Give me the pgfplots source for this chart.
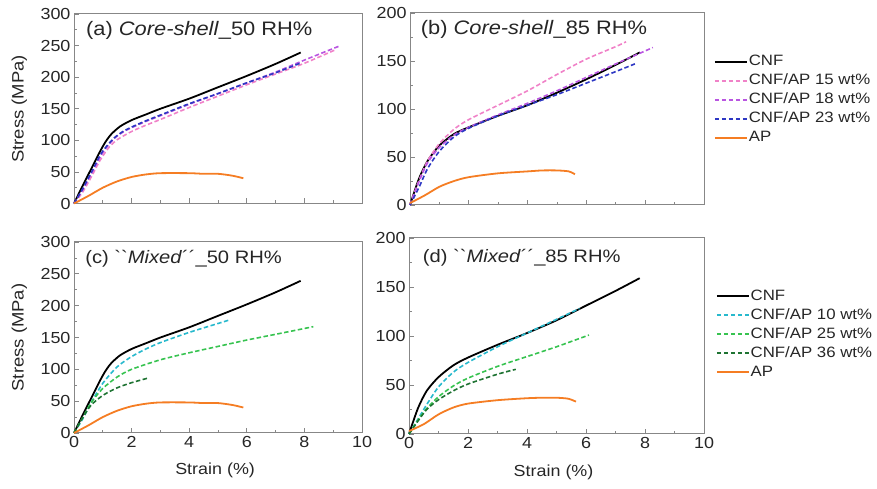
\documentclass[border=0pt]{standalone}
\usepackage{pgfplots}
\pgfplotsset{compat=1.18}
\usepackage{fontspec}
\setmainfont{Liberation Sans}[FakeStretch=1.12]
\newfontfamily\qfont{Liberation Sans}[FakeStretch=1.12]
\definecolor{cpink}{RGB}{240,130,200}
\definecolor{cviolet}{RGB}{185,85,225}
\definecolor{cblue}{RGB}{45,55,195}
\definecolor{ccyan}{RGB}{40,185,205}
\definecolor{cgreen}{RGB}{55,195,80}
\definecolor{cdgreen}{RGB}{30,115,50}
\definecolor{corange}{RGB}{245,125,35}
\definecolor{cframe}{RGB}{135,135,135}
\tikzset{ttl/.style={anchor=west, font=\fontsize{19.5}{22}\selectfont, text=black!85},
         ttlm/.style={anchor=west, font=\fontsize{18}{22}\selectfont, text=black!85}}
\pgfplotsset{
  panel/.style={scale only axis, xmin=0, xmax=10, ymin=0,
    xtick={0,2,...,10}, minor xtick={1,3,...,9}, minor y tick num=1,
    tick align=inside, xtick pos=left, ytick pos=left,
    major tick length=5pt, minor tick length=3pt,
    axis line style={cframe, line width=1pt},
    every tick/.style={cframe, line width=0.8pt},
    tick label style={font=\fontsize{16}{18}\selectfont, text=black!85},
    /pgf/number format/assume math mode=true,
    clip=false,
    legend cell align=left,
    legend image code/.code={\draw[##1, line width=1.7pt] (0pt,0pt) -- (32pt,0pt);},
    legend style={draw=none, fill=none, inner sep=0pt, row sep=3pt,
      font=\fontsize{15}{18}\selectfont, text=black!85,
      nodes={inner sep=1pt, text height=11pt, text depth=3pt}},
  },
  sol/.style={line width=1.8pt, smooth, tension=0.45},
  das/.style={line width=1.6pt, smooth, tension=0.45, dash pattern=on 4.5pt off 2.5pt},
  ylab/.style={ylabel={Stress (MPa)}, every axis y label/.style={at={(rel axis cs:-0.19,0.5)}, rotate=90, anchor=center, font=\fontsize{16.5}{18}\selectfont, text=black!85}},
  xlab/.style={xlabel={Strain (\%)}, every axis x label/.style={at={(rel axis cs:0.49,-0.196)}, anchor=center, font=\fontsize{16}{18}\selectfont, text=black!85}},
}
\begin{document}
\begin{tikzpicture}
\useasboundingbox (0,0) rectangle (877pt,489pt);
% (a)
\begin{axis}[panel, ylab, at={(74pt,285.5pt)}, anchor=south west, width=288pt, height=189.5pt,
  ymax=300, ytick={0,50,...,300}, xticklabel=\empty,
  legend style={at={(2.222,0.79)}, anchor=north west}]
\addplot[sol, black] coordinates {(0,0) (0.3,28) (0.6,55) (0.9,82) (1.1,98) (1.3,110) (1.6,122) (2,132) (2.5,141) (3,150) (4,166) (5,184) (6,202) (7,221) (7.87,239)};
\addlegendentry{CNF}
\addplot[das, cpink] coordinates {(0,0) (0.3,18) (0.6,42) (0.9,68) (1.2,88) (1.5,101) (2,114) (2.5,124) (3,133) (4,152) (5,170) (6,188) (7,205) (8,222) (9.06,243)};
\addlegendentry{CNF/AP 15 wt\%}
\addplot[das, cviolet] coordinates {(0,0) (0.3,22) (0.6,47) (0.9,73) (1.1,87) (1.4,103) (1.7,113) (2,120) (2.5,130) (3,139) (4,157) (5,174) (6,191) (7,208) (8,227) (9.2,249)};
\addlegendentry{CNF/AP 18 wt\%}
\addplot[das, cblue] coordinates {(0,0) (0.3,23) (0.6,49) (0.9,76) (1.1,89) (1.4,104) (1.7,114) (2,121) (2.5,131) (3,140) (4,158) (5,174) (6,191) (7,207) (7.85,222)};
\addlegendentry{CNF/AP 23 wt\%}
\addplot[sol, corange] coordinates {(0,0) (0.5,12) (1,25) (1.5,35) (2,42) (2.5,46) (3,48) (4,48) (4.5,47) (5,47) (5.5,44) (5.88,40)};
\addlegendentry{AP}
\node[ttl] at (rel axis cs:0.03,0.915) {(a) \textit{Core-shell}\_50 RH\%};
\end{axis}
% (b)
\begin{axis}[panel, at={(410pt,284pt)}, anchor=south west, width=294pt, height=192pt,
  ymax=200, ytick={0,50,...,200}, xticklabel=\empty]
\addplot[sol, black] coordinates {(0,0) (0.3,27) (0.6,46) (1,62) (1.5,74) (2,81) (3,93) (4,104) (5,117) (6,131) (7,146) (7.82,159)};
\addplot[das, cpink] coordinates {(0,0) (0.3,25) (0.6,46) (1,64) (1.5,79) (2,89) (3,104) (4,119) (5,136) (6,152) (7,165) (7.35,170)};
\addplot[das, cviolet] coordinates {(0,0) (0.3,24) (0.6,44) (1,60) (1.5,73) (2,81) (3,94) (4,106) (5,119) (6,133) (7,147) (8.26,164)};
\addplot[das, cblue] coordinates {(0,0) (0.3,18) (0.6,38) (1,56) (1.5,71) (2,80) (3,93) (4,104) (5,115) (6,127) (7,139) (7.65,147)};
\addplot[sol, corange] coordinates {(0,2) (0.5,10) (1,19) (1.5,25) (2,29) (3,33) (4,35) (4.5,36) (5,36) (5.4,35) (5.61,32)};
\node[ttl] at (rel axis cs:0.025,0.915) {(b) \textit{Core-shell}\_85 RH\%};
\end{axis}
% (c)
\begin{axis}[panel, ylab, xlab, at={(74pt,56pt)}, anchor=south west, width=288pt, height=191pt,
  ymax=300, ytick={0,50,...,300}]
\addplot[sol, black] coordinates {(0,0) (0.3,28) (0.6,55) (0.9,82) (1.1,98) (1.3,110) (1.6,122) (2,132) (2.5,141) (3,150) (4,166) (5,184) (6,202) (7,221) (7.87,239)};
\addplot[das, ccyan] coordinates {(0,0) (0.3,22) (0.6,48) (1,78) (1.5,104) (2,120) (2.5,132) (3,142) (4,158) (5,172) (5.36,177)};
\addplot[das, cgreen] coordinates {(0,0) (0.3,24) (0.6,48) (1,70) (1.5,88) (2,100) (3,115) (4,126) (5,136) (6,146) (7,155) (8.31,167)};
\addplot[das, cdgreen] coordinates {(0,0) (0.3,24) (0.6,44) (1,59) (1.5,71) (2,79) (2.55,86)};
\addplot[sol, corange] coordinates {(0,0) (0.5,12) (1,25) (1.5,35) (2,42) (2.5,46) (3,48) (4,48) (4.5,47) (5,47) (5.5,44) (5.88,40)};
\node[ttlm] at (rel axis cs:0.027,0.91) {(c) {\qfont ``}\textit{Mixed}´´\_50 RH\%};
\end{axis}
% (d)
\begin{axis}[panel, xlab, at={(409pt,55pt)}, anchor=south west, width=295pt, height=196pt,
  ymax=200, ytick={0,50,...,200},
  legend style={at={(1.04,0.745)}, anchor=north west}]
\addplot[sol, black] coordinates {(0,0) (0.3,26) (0.6,44) (1,58) (1.5,70) (2,78) (3,91) (4,103) (5,116) (6,131) (7,146) (7.82,159)};
\addlegendentry{CNF}
\addplot[das, ccyan] coordinates {(0,0) (0.3,15) (0.6,30) (1,48) (1.5,63) (2,73) (3,89) (4,103) (5,117) (5.78,128)};
\addlegendentry{CNF/AP 10 wt\%}
\addplot[das, cgreen] coordinates {(0,0) (0.3,14) (0.6,26) (1,38) (1.5,49) (2,57) (3,69) (4,79) (5,89) (6.1,101)};
\addlegendentry{CNF/AP 25 wt\%}
\addplot[das, cdgreen] coordinates {(0,0) (0.3,13) (0.6,25) (1,35) (1.5,44) (2,51) (3,61) (3.62,66)};
\addlegendentry{CNF/AP 36 wt\%}
\addplot[sol, corange] coordinates {(0,3) (0.5,10) (1,20) (1.5,27) (2,31) (3,34.5) (4,36.5) (4.5,37) (5,37) (5.4,36) (5.66,33)};
\addlegendentry{AP}
\node[ttlm] at (rel axis cs:0.035,0.9) {(d) {\qfont ``}\textit{Mixed}´´\_85 RH\%};
\end{axis}
\end{tikzpicture}
\end{document}
